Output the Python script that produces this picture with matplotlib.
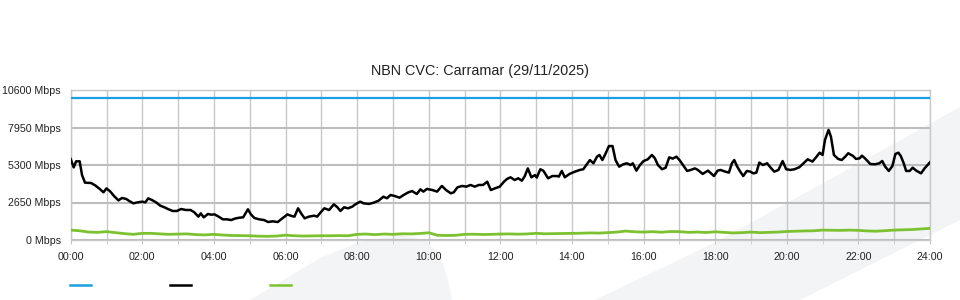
import matplotlib
matplotlib.use('Agg')
import matplotlib.pyplot as plt
from matplotlib.patches import Polygon
from matplotlib.lines import Line2D

plt.rcParams['font.family'] = ['Liberation Sans', 'DejaVu Sans']

title = 'NBN CVC: Carramar (29/11/2025)'

# capacity (blue)
cap_minutes = [0, 1440]
cap_mbps = [10000, 10000]

# traffic (black) - minutes since midnight, Mbps
traffic_minutes = [
    0, 5, 9, 15, 19, 24, 34, 41, 48, 55, 60, 66, 73, 80, 86, 93, 98, 105, 112, 120,
    125, 130, 136, 143, 150, 157, 164, 171, 178, 185, 193, 201, 207, 214, 218, 223, 230, 235, 241, 248,
    255, 262, 269, 275, 283, 289, 297, 302, 308, 316, 324, 331, 338, 347, 354, 360,
    363, 370, 375, 381, 386, 392, 399, 408, 413, 419, 425, 433, 441, 447, 452, 458, 465, 472, 477, 485,
    491, 500, 508, 516, 524, 530, 536, 543, 551, 558, 565, 572, 580, 586, 591, 597, 606, 614, 622, 629,
    637, 642, 648, 656, 663, 670, 677, 684, 691, 698, 704, 711, 719,
    726, 731, 737, 744, 750, 756, 761, 766, 772, 778, 781, 787, 792, 800, 807, 815, 818, 823, 828, 836,
    845, 853, 859, 864, 870, 876, 882, 886, 891, 897, 902, 908, 913, 919, 926, 932, 938, 942, 948, 954,
    960, 967, 974, 979, 984, 991, 997, 1003, 1009, 1015, 1021, 1026, 1033, 1039, 1046, 1051, 1059, 1068, 1078,
    1084, 1089, 1097, 1103, 1108, 1112, 1117, 1122, 1127, 1133, 1139, 1144, 1149, 1154, 1160, 1167, 1173, 1179,
    1186, 1193, 1199, 1206, 1213, 1221, 1228, 1235, 1243, 1249, 1255, 1260, 1264, 1270, 1274, 1279, 1286, 1292,
    1298, 1303, 1311, 1316, 1322, 1326, 1331, 1340, 1348, 1355, 1360, 1365, 1371, 1377, 1382, 1387, 1391, 1396,
    1400, 1406, 1411, 1417, 1425, 1431, 1440,
]
traffic_mbps = [
    5720, 5130, 5560, 5560, 4590, 4050, 4030, 3860, 3630, 3370, 3650, 3440, 3090, 2800, 2970, 2900, 2760, 2590, 2660, 2710,
    2660, 2940, 2830, 2660, 2430, 2310, 2170, 2050, 2050, 2190, 2120, 2120, 1960, 1650, 1880, 1600, 1840, 1790, 1810, 1650,
    1460, 1460, 1410, 1510, 1580, 1600, 2170, 1810, 1550, 1460, 1410, 1270, 1320, 1270, 1510, 1700,
    1810, 1700, 1650, 2240, 1890, 1530, 1650, 1720, 1650, 1960, 2240, 2120, 2520, 2310, 2050, 2310, 2240, 2360, 2520, 2710,
    2590, 2550, 2640, 2780, 3060, 2950, 3180, 3110, 2990, 3180, 3350, 3460, 3250, 3580, 3420, 3610, 3530, 3420, 3820, 3530,
    3300, 3370, 3720, 3820, 3770, 3890, 3770, 3890, 3890, 4120, 3530, 3650, 3770,
    4120, 4310, 4430, 4240, 4360, 4190, 4520, 5060, 4430, 4590, 4410, 5000, 4900, 4360, 4520, 4520, 4480, 4880, 4430, 4670,
    4830, 4950, 5000, 5300, 5650, 5420, 5890, 6010, 5650, 6170, 6640, 6640, 5650, 5180, 5350, 5420, 5300, 5420, 4900, 5300,
    5580, 5700, 6010, 5770, 5300, 5000, 5110, 5840, 5750, 5890, 5610, 5300, 4880, 4950, 5060, 4950, 4670, 4900, 4520,
    4900, 4950, 4830, 4760, 5420, 5650, 5180, 4830, 4520, 4880, 4830, 4710, 4760, 5470, 5300, 5420, 5110, 4830,
    4950, 5580, 5000, 4950, 5000, 5140, 5420, 5700, 5540, 5840, 6170, 6010, 7070, 7780, 7300, 6010, 5730, 5650,
    5890, 6130, 5940, 5730, 5770, 5960, 5770, 5370, 5350, 5420, 5580, 5180, 4880, 5230, 6080, 6170, 5940, 5420,
    4880, 4880, 5110, 4900, 4710, 5070, 5490,
]

# green series, 15 minute steps
green_minutes = list(range(0, 1441, 15))
green_mbps = [
    700, 650, 560, 540, 590, 520, 450, 400, 470, 470, 430, 400, 420, 430, 380, 360,
    400, 350, 320, 310, 300, 270, 260, 280, 340, 300, 280, 290, 300, 300, 310, 300,
    400, 420, 380, 420, 400, 440, 430, 460, 510, 330, 320, 330, 400, 410, 390, 400,
    420, 430, 410, 430, 470, 440, 450, 460, 470, 480, 500, 490, 520, 560, 630, 580,
    560, 590, 550, 600, 590, 540, 560, 530, 580, 540, 500, 520, 560, 520, 540, 560,
    600, 620, 640, 650, 700, 690, 680, 700, 680, 640, 620, 660, 700, 720, 740, 780,
    820,
]

ytick_vals = [0, 2650, 5300, 7950, 10600]
xtick_vals = list(range(0, 1441, 120))
xtick_labels = ['%02d:00' % (m // 60) for m in xtick_vals]

fig = plt.figure(figsize=(9.6, 3.0), dpi=100)
fig.patch.set_facecolor('white')

# faint background watermark shapes (figure pixel coords, y from top)
W, H = 960.0, 300.0
def fpoly(pts):
    return Polygon([(x / W, 1 - y / H) for x, y in pts], closed=True,
                   transform=fig.transFigure, facecolor='#f3f4f6', edgecolor='none', zorder=-5)

fig.patches.append(fpoly([(595, 300), (714, 243), (836, 176), (960, 107), (960, 220), (800, 300)]))
fig.patches.append(fpoly([(250, 300), (280, 282), (320, 258), (360, 242), (400, 235), (425, 240),
                          (440, 255), (448, 280), (452, 300)]))

ax = fig.add_axes([70.7 / W, 60 / H, (930 - 70.7) / W, 150 / H])
ax.patch.set_alpha(0)

ax.plot(cap_minutes, cap_mbps, color='#1aa0e2', lw=1.6, zorder=3)
ax.plot(green_minutes, green_mbps, color='#7cc230', lw=2.0, zorder=3)
ax.plot(traffic_minutes, traffic_mbps, color='black', lw=1.8, zorder=4)

ax.set_xlim(0, 1440)
ax.set_ylim(0, 10600)
ax.set_yticks(ytick_vals)
ax.set_yticklabels(['%d Mbps' % v for v in ytick_vals])
ax.set_xticks(xtick_vals)
ax.set_xticklabels(xtick_labels)
ax.set_xticks(range(60, 1440, 120), minor=True)

ax.grid(axis='y', color='#bdbdbd', lw=1.5, zorder=1)
ax.grid(axis='x', which='both', color='#c8c8c8', lw=1.0, zorder=1)
ax.set_axisbelow(True)

ax.tick_params(axis='x', which='both', length=3, color='#c8c8c8', pad=5.5, labelsize=7.7, labelcolor='#222222')
ax.tick_params(axis='y', length=0, pad=7, labelsize=7.7, labelcolor='#222222')
for lab in ax.get_yticklabels():
    lab.set_y(lab.get_position()[1])
    lab.set_verticalalignment('center_baseline')
for s in ax.spines.values():
    s.set_color('#c8c8c8')
    s.set_linewidth(1.0)

fig.text(0.5, 1 - 71 / H, title, ha='center', va='center', fontsize=10.4, color='#222222')

# legend swatches without text
for x0, c in [(70, '#1aa0e2'), (170, 'black'), (270, '#7cc230')]:
    fig.lines.append(Line2D([x0 / W, (x0 + 21) / W], [1 - 285 / H, 1 - 285 / H],
                            transform=fig.transFigure, color=c, lw=1.8))

fig.savefig('out.png', dpi=100)
